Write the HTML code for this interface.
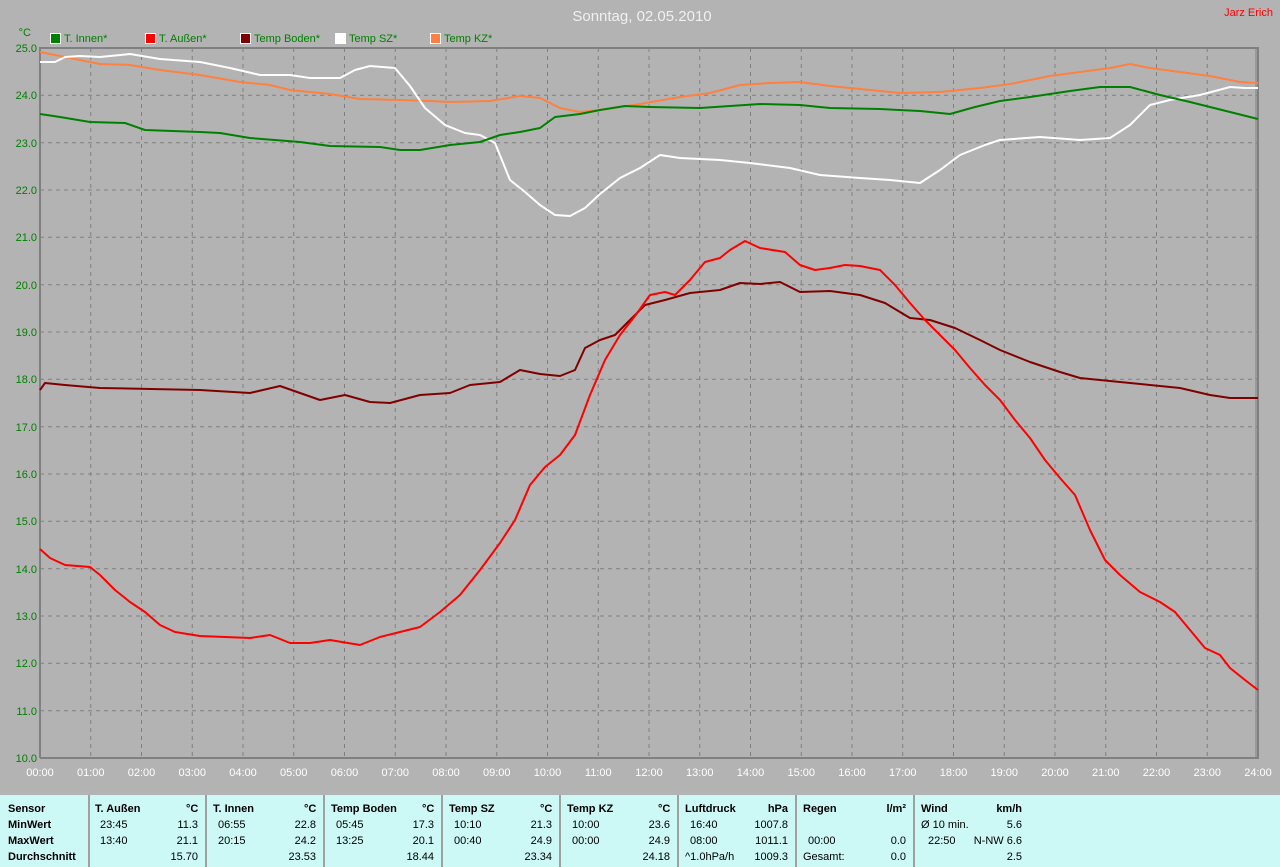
<!DOCTYPE html>
<html><head><meta charset="utf-8"><style>
body{margin:0;width:1280px;height:867px;background:#b3b3b3;overflow:hidden;font-family:"Liberation Sans",sans-serif}
svg{position:absolute;left:0;top:0}
.tb{position:absolute;left:0;top:795px;width:1280px;height:72px;background:#ccf8f5;font-size:11px}
.c{position:absolute;top:0;height:72px;border-left:2px solid #a0a0a0}
.t{position:absolute;white-space:nowrap}
.b{font-weight:bold}
</style></head><body>
<svg width="1280" height="795" font-family="Liberation Sans, sans-serif">
<g stroke="#808080" stroke-dasharray="4,4" stroke-width="1">
<line x1="90.75" y1="48" x2="90.75" y2="758"/><line x1="141.5" y1="48" x2="141.5" y2="758"/><line x1="192.25" y1="48" x2="192.25" y2="758"/><line x1="243" y1="48" x2="243" y2="758"/><line x1="293.75" y1="48" x2="293.75" y2="758"/><line x1="344.5" y1="48" x2="344.5" y2="758"/><line x1="395.25" y1="48" x2="395.25" y2="758"/><line x1="446" y1="48" x2="446" y2="758"/><line x1="496.75" y1="48" x2="496.75" y2="758"/><line x1="547.5" y1="48" x2="547.5" y2="758"/><line x1="598.25" y1="48" x2="598.25" y2="758"/><line x1="649" y1="48" x2="649" y2="758"/><line x1="699.75" y1="48" x2="699.75" y2="758"/><line x1="750.5" y1="48" x2="750.5" y2="758"/><line x1="801.25" y1="48" x2="801.25" y2="758"/><line x1="852" y1="48" x2="852" y2="758"/><line x1="902.75" y1="48" x2="902.75" y2="758"/><line x1="953.5" y1="48" x2="953.5" y2="758"/><line x1="1004.25" y1="48" x2="1004.25" y2="758"/><line x1="1055" y1="48" x2="1055" y2="758"/><line x1="1105.75" y1="48" x2="1105.75" y2="758"/><line x1="1156.5" y1="48" x2="1156.5" y2="758"/><line x1="1207.25" y1="48" x2="1207.25" y2="758"/>
<line x1="40" y1="95.3" x2="1258" y2="95.3"/><line x1="40" y1="142.7" x2="1258" y2="142.7"/><line x1="40" y1="190" x2="1258" y2="190"/><line x1="40" y1="237.3" x2="1258" y2="237.3"/><line x1="40" y1="284.7" x2="1258" y2="284.7"/><line x1="40" y1="332" x2="1258" y2="332"/><line x1="40" y1="379.3" x2="1258" y2="379.3"/><line x1="40" y1="426.7" x2="1258" y2="426.7"/><line x1="40" y1="474" x2="1258" y2="474"/><line x1="40" y1="521.3" x2="1258" y2="521.3"/><line x1="40" y1="568.7" x2="1258" y2="568.7"/><line x1="40" y1="616" x2="1258" y2="616"/><line x1="40" y1="663.3" x2="1258" y2="663.3"/><line x1="40" y1="710.7" x2="1258" y2="710.7"/>
</g>
<g stroke="#808080" stroke-width="2" fill="none">
<polyline points="40,758 40,48 1258,48 1258,758 40,758"/>
<line x1="1256" y1="48" x2="1256" y2="758" stroke-width="1"/>
</g>
<g fill="none" stroke-width="2" stroke-linejoin="round">
<polyline stroke="#ff8040" points="40,52 60,56 80,60 100,64 130,65 160,70 200,75 240,82 270,85 290,90 330,94 360,99 400,100 430,101 450,102 490,101 520,96 540,98 560,108 580,112 600,110 640,104 680,97 710,93 740,85 770,83 800,82 830,86 870,90 900,93 940,92 980,88 1010,84 1050,76 1080,72 1110,68 1130,64 1150,68 1180,72 1210,76 1240,82 1258,83"/>
<polyline stroke="#ffffff" points="40,62 55,62 65,57 80,56 100,57 130,54 160,59 200,62 230,68 260,75 290,75 310,78 340,78 355,70 370,66 395,68 410,86 425,108 445,125 465,133 480,135 495,143 510,180 525,192 540,205 555,215 570,216 585,208 600,194 620,178 640,168 660,155 680,158 720,160 750,163 790,168 820,175 860,178 890,180 920,183 940,170 960,155 985,145 1000,140 1040,137 1080,140 1110,138 1130,125 1150,105 1170,100 1200,95 1230,87 1245,88 1258,88"/>
<polyline stroke="#008000" points="40,114 60,117 90,122 125,123 145,130 200,132 220,133 250,138 300,142 330,146 380,147 400,150 420,150 450,145 480,142 500,135 520,132 540,128 555,117 580,114 600,110 625,106 650,107 700,108 730,106 760,104 800,105 830,108 880,109 920,111 950,114 975,107 1000,101 1030,97 1070,91 1100,87 1130,87 1160,95 1190,102 1230,112 1258,119"/>
<polyline stroke="#800000" points="40,390 45,383 65,385 100,388 200,390 250,393 280,386 300,393 320,400 345,395 370,402 390,403 420,395 450,393 470,385 500,382 520,370 540,374 560,376 575,370 585,348 600,340 615,335 630,320 645,305 665,300 690,293 720,290 740,283 760,284 780,282 800,292 830,291 860,295 885,303 910,318 930,320 955,328 980,340 1000,350 1030,362 1060,372 1080,378 1110,381 1150,385 1180,388 1210,395 1230,398 1258,398"/>
<polyline stroke="#ff0000" points="40,549 50,558 65,565 90,567 100,575 115,590 130,602 145,612 160,625 175,632 200,636 250,638 270,635 290,643 310,643 330,640 360,645 380,637 400,632 420,627 440,612 460,595 480,570 500,543 515,520 530,485 545,467 560,455 575,435 590,395 605,360 620,335 635,316 650,295 665,292 675,295 690,280 705,262 720,258 730,250 745,241 760,248 785,252 800,265 815,270 830,268 845,265 860,266 880,270 895,285 910,303 925,320 940,335 955,350 970,368 985,385 1000,400 1015,420 1030,438 1045,460 1060,478 1075,495 1090,530 1105,560 1120,575 1140,592 1160,602 1175,612 1190,630 1205,648 1220,655 1230,668 1245,680 1258,690"/>
</g>
<g fill="#008000" font-size="11" text-anchor="end">
<text x="37" y="52">25.0</text><text x="37" y="99">24.0</text><text x="37" y="147">23.0</text><text x="37" y="194">22.0</text><text x="37" y="241">21.0</text><text x="37" y="289">20.0</text><text x="37" y="336">19.0</text><text x="37" y="383">18.0</text><text x="37" y="431">17.0</text><text x="37" y="478">16.0</text><text x="37" y="525">15.0</text><text x="37" y="573">14.0</text><text x="37" y="620">13.0</text><text x="37" y="667">12.0</text><text x="37" y="715">11.0</text><text x="37" y="762">10.0</text>
<text x="31" y="36">°C</text>
</g>
<g fill="#ffffff" font-size="11" text-anchor="middle">
<text x="40" y="776">00:00</text><text x="90.75" y="776">01:00</text><text x="141.5" y="776">02:00</text><text x="192.25" y="776">03:00</text><text x="243" y="776">04:00</text><text x="293.75" y="776">05:00</text><text x="344.5" y="776">06:00</text><text x="395.25" y="776">07:00</text><text x="446" y="776">08:00</text><text x="496.75" y="776">09:00</text><text x="547.5" y="776">10:00</text><text x="598.25" y="776">11:00</text><text x="649" y="776">12:00</text><text x="699.75" y="776">13:00</text><text x="750.5" y="776">14:00</text><text x="801.25" y="776">15:00</text><text x="852" y="776">16:00</text><text x="902.75" y="776">17:00</text><text x="953.5" y="776">18:00</text><text x="1004.25" y="776">19:00</text><text x="1055" y="776">20:00</text><text x="1105.75" y="776">21:00</text><text x="1156.5" y="776">22:00</text><text x="1207.25" y="776">23:00</text><text x="1258" y="776">24:00</text>
<text x="642" y="21" font-size="15" fill="#f0f0f0">Sonntag, 02.05.2010</text>
</g>
<text x="1273" y="16" fill="#ff0000" font-size="11" text-anchor="end">Jarz Erich</text>
<g font-size="11" fill="#008000" stroke="#fff" stroke-width="1">
<rect x="50.5" y="33.5" width="10" height="10" fill="#008000"/><rect x="145.5" y="33.5" width="10" height="10" fill="#ff0000"/><rect x="240.5" y="33.5" width="10" height="10" fill="#800000"/><rect x="335.5" y="33.5" width="10" height="10" fill="#ffffff"/><rect x="430.5" y="33.5" width="10" height="10" fill="#ff8040"/>
</g>
<g font-size="11" fill="#008000">
<text x="64" y="42">T. Innen*</text><text x="159" y="42">T. Außen*</text><text x="254" y="42">Temp Boden*</text><text x="349" y="42">Temp SZ*</text><text x="444" y="42">Temp KZ*</text>
</g>
</svg>
<div class="tb">
<div class="c" style="left:88px"></div><div class="c" style="left:205px"></div><div class="c" style="left:323px"></div><div class="c" style="left:441px"></div><div class="c" style="left:559px"></div><div class="c" style="left:677px"></div><div class="c" style="left:795px"></div><div class="c" style="left:913px"></div>
<div class="t b" style="left:8px;top:8px">Sensor</div><div class="t b" style="left:8px;top:24px">MinWert</div><div class="t b" style="left:8px;top:40px">MaxWert</div><div class="t b" style="left:8px;top:56px">Durchschnitt</div>
<div class="t b" style="left:95px;top:8px">T. Außen</div><div class="t b" style="left:186px;top:8px">°C</div>
<div class="t" style="left:100px;top:24px">23:45</div><div class="t" style="right:1082px;top:24px">11.3</div>
<div class="t" style="left:100px;top:40px">13:40</div><div class="t" style="right:1082px;top:40px">21.1</div><div class="t" style="right:1082px;top:56px">15.70</div>
<div class="t b" style="left:213px;top:8px">T. Innen</div><div class="t b" style="left:304px;top:8px">°C</div>
<div class="t" style="left:218px;top:24px">06:55</div><div class="t" style="right:964px;top:24px">22.8</div>
<div class="t" style="left:218px;top:40px">20:15</div><div class="t" style="right:964px;top:40px">24.2</div><div class="t" style="right:964px;top:56px">23.53</div>
<div class="t b" style="left:331px;top:8px">Temp Boden</div><div class="t b" style="left:422px;top:8px">°C</div>
<div class="t" style="left:336px;top:24px">05:45</div><div class="t" style="right:846px;top:24px">17.3</div>
<div class="t" style="left:336px;top:40px">13:25</div><div class="t" style="right:846px;top:40px">20.1</div><div class="t" style="right:846px;top:56px">18.44</div>
<div class="t b" style="left:449px;top:8px">Temp SZ</div><div class="t b" style="left:540px;top:8px">°C</div>
<div class="t" style="left:454px;top:24px">10:10</div><div class="t" style="right:728px;top:24px">21.3</div>
<div class="t" style="left:454px;top:40px">00:40</div><div class="t" style="right:728px;top:40px">24.9</div><div class="t" style="right:728px;top:56px">23.34</div>
<div class="t b" style="left:567px;top:8px">Temp KZ</div><div class="t b" style="left:658px;top:8px">°C</div>
<div class="t" style="left:572px;top:24px">10:00</div><div class="t" style="right:610px;top:24px">23.6</div>
<div class="t" style="left:572px;top:40px">00:00</div><div class="t" style="right:610px;top:40px">24.9</div><div class="t" style="right:610px;top:56px">24.18</div>
<div class="t b" style="left:685px;top:8px">Luftdruck</div><div class="t b" style="right:492px;top:8px">hPa</div>
<div class="t" style="left:690px;top:24px">16:40</div><div class="t" style="right:492px;top:24px">1007.8</div>
<div class="t" style="left:690px;top:40px">08:00</div><div class="t" style="right:492px;top:40px">1011.1</div>
<div class="t" style="left:685px;top:56px">^1.0hPa/h</div><div class="t" style="right:492px;top:56px">1009.3</div>
<div class="t b" style="left:803px;top:8px">Regen</div><div class="t b" style="right:374px;top:8px">l/m²</div>
<div class="t" style="left:808px;top:40px">00:00</div><div class="t" style="right:374px;top:40px">0.0</div>
<div class="t" style="left:803px;top:56px">Gesamt:</div><div class="t" style="right:374px;top:56px">0.0</div>
<div class="t b" style="left:921px;top:8px">Wind</div><div class="t b" style="right:258px;top:8px">km/h</div>
<div class="t" style="left:921px;top:24px">Ø 10 min.</div><div class="t" style="right:258px;top:24px">5.6</div>
<div class="t" style="left:928px;top:40px">22:50</div><div class="t" style="right:258px;top:40px">N-NW 6.6</div>
<div class="t" style="right:258px;top:56px">2.5</div>
</div>
</body></html>
